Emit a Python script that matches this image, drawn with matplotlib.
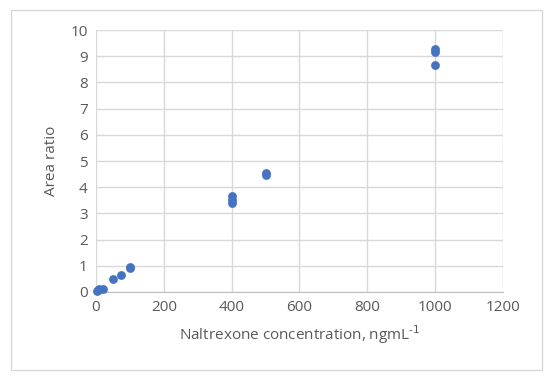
import matplotlib.pyplot as plt
from matplotlib.patches import Rectangle

conc = [2, 5, 10, 20, 50, 75, 100, 100, 400, 400, 400, 500, 500, 1000, 1000, 1000]
ratio = [0.03, 0.06, 0.1, 0.13, 0.5, 0.65, 0.9, 0.95, 3.4, 3.5, 3.65, 4.45, 4.55, 8.65, 9.15, 9.28]

xticks = [0, 200, 400, 600, 800, 1000, 1200]
yticks = list(range(0, 11))

plt.rcParams['font.family'] = ['Open Sans', 'DejaVu Sans']
tick_col = '#595959'

fig = plt.figure(figsize=(5.5, 3.85), dpi=100)
ax = fig.add_axes([0.1745, 0.2416, 0.74, 0.6804])

# light frame round the whole chart
fig.patches.append(Rectangle((11 / 550, 15 / 385), 531 / 550, 360 / 385, transform=fig.transFigure,
                             fill=False, edgecolor='#d9d9d9', linewidth=1))

ax.scatter(conc, ratio, s=40, color='#4472C4', zorder=3, linewidths=0, clip_on=False)

ax.set_xlim(0, 1200)
ax.set_ylim(0, 10)
ax.set_xticks(xticks)
ax.set_yticks(yticks)
ax.grid(True, color='#d9d9d9', linewidth=1)
ax.set_axisbelow(True)
for s in ['top', 'right', 'left']:
    ax.spines[s].set_visible(False)
ax.spines['bottom'].set_color('#bfbfbf')
ax.tick_params(length=0, labelsize=11, colors=tick_col, pad=6)

ax.set_xlabel(r'Naltrexone concentration, ngmL$^{\text{-1}}$', fontsize=11, color=tick_col, labelpad=6)
ax.set_ylabel('Area ratio', fontsize=11, color=tick_col, labelpad=8)

fig.savefig('out.png', dpi=100)
